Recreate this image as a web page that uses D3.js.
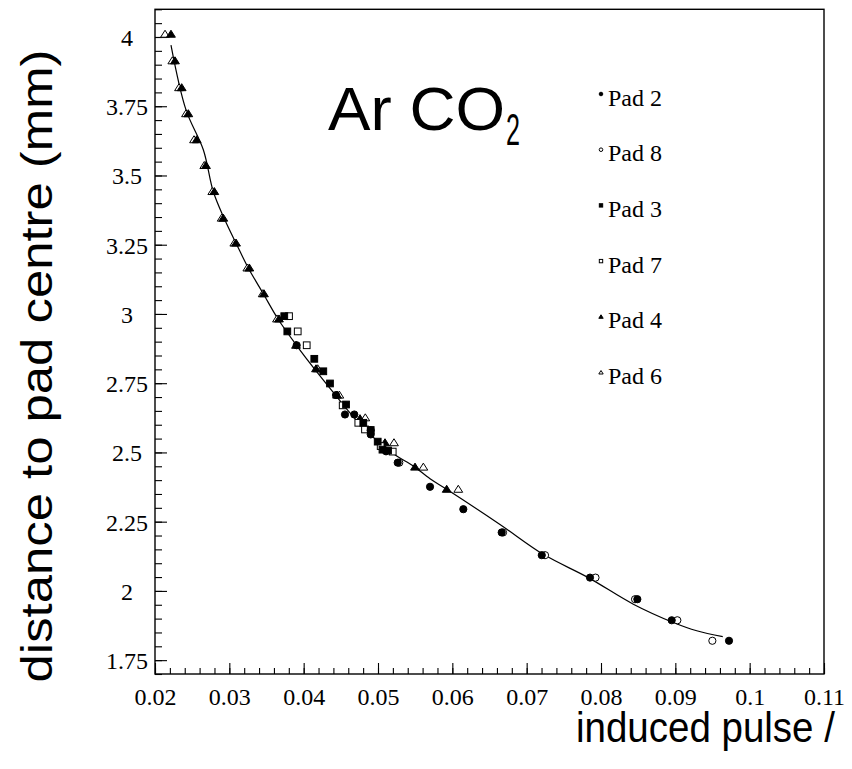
<!DOCTYPE html>
<html><head><meta charset="utf-8">
<script src="https://cdn.jsdelivr.net/npm/d3@7"></script>
<style>body{margin:0;background:#fff}</style>
</head><body>
<svg id="c" width="852" height="769"></svg>
<script>
// ---- data ----
const xTickValues = [0.02,0.03,0.04,0.05,0.06,0.07,0.08,0.09,0.1,0.11];
const yTickValues = [1.75,2,2.25,2.5,2.75,3,3.25,3.5,3.75,4];
const xTickLabels = ["0.02","0.03","0.04","0.05","0.06","0.07","0.08","0.09","0.1","0.11"];
const yTickLabels = ["1.75","2","2.25","2.5","2.75","3","3.25","3.5","3.75","4"];
const legendLabels = ["Pad 2","Pad 8","Pad 3","Pad 7","Pad 4","Pad 6"];

const pad2 = [[0.03906,2.887],[0.04435,2.707],[0.04556,2.637],[0.04681,2.637],[0.04902,2.565],[0.04902,2.58],[0.05108,2.504],[0.05265,2.463],[0.0570,2.376],[0.06148,2.295],[0.06664,2.211],[0.07203,2.129],[0.07852,2.048],[0.08489,1.970],[0.08951,1.894],[0.09722,1.820]];
const pad8 = [[0.05286,2.463],[0.06682,2.211],[0.07247,2.129],[0.07926,2.048],[0.08458,1.970],[0.09027,1.894],[0.09498,1.820]];
const pad3 = [[0.03739,2.992],[0.03780,2.937],[0.04143,2.838],[0.04264,2.793],[0.04354,2.749],[0.04570,2.673],[0.04802,2.607],[0.04902,2.581],[0.04996,2.539],[0.05135,2.507],[0.05060,2.510]];
const pad7 = [[0.03803,2.992],[0.03920,2.937],[0.04041,2.887],[0.04525,2.670],[0.04735,2.607],[0.04825,2.583],[0.05036,2.523],[0.05198,2.503]];
const pad4 = [[0.02215,4.010],[0.02269,3.914],[0.02359,3.817],[0.02448,3.723],[0.02561,3.629],[0.02686,3.536],[0.02798,3.442],[0.02919,3.346],[0.03090,3.256],[0.03269,3.166],[0.03466,3.073],[0.03668,2.982],[0.03897,2.887],[0.04166,2.802],[0.04449,2.707],[0.04758,2.622],[0.05094,2.535],[0.05498,2.447],[0.05924,2.367]];
const pad6 = [[0.02135,4.010],[0.02233,3.914],[0.02323,3.817],[0.02417,3.723],[0.02525,3.629],[0.02663,3.536],[0.02771,3.442],[0.02897,3.346],[0.03067,3.256],[0.03242,3.166],[0.03449,3.073],[0.03641,2.982],[0.04189,2.802],[0.04480,2.707],[0.04829,2.625],[0.05215,2.535],[0.05610,2.447],[0.06080,2.367]];
const fitCurve = [[0.02215,3.971],[0.02417,3.737],[0.0265,3.593],[0.02784,3.442],[0.02919,3.352],[0.0310,3.250],[0.03255,3.166],[0.03457,3.073],[0.03659,2.980],[0.03906,2.886],[0.04153,2.799],[0.04422,2.709],[0.04623,2.643],[0.04825,2.583],[0.05071,2.523],[0.05252,2.487],[0.05475,2.451],[0.0570,2.405],[0.05924,2.367],[0.06641,2.240],[0.07224,2.132],[0.07829,2.048],[0.08435,1.952],[0.08973,1.886],[0.09288,1.856],[0.09638,1.835]];

// ---- layout ----
const svg = d3.select("#c");
const x = d3.scaleLinear().domain([0.02,0.11]).range([155,824]);
const y = d3.scaleLinear().domain([1.7,4.1]).range([674,9.3]);

// frame
svg.append("rect").attr("x",155).attr("y",9.3).attr("width",824-155).attr("height",674-9.3)
  .attr("fill","none").attr("stroke","#000").attr("stroke-width",1.4);

// minor ticks
const xMinor = d3.range(0.02,0.1101,0.002);
const yMinor = d3.range(1.7,4.1001,0.05);
svg.append("g").attr("transform","translate(0,674)")
  .call(d3.axisBottom(x).tickValues(xMinor).tickSize(-6).tickFormat(""))
  .call(g=>g.select(".domain").remove());
svg.append("g").attr("transform","translate(155,0)")
  .call(d3.axisLeft(y).tickValues(yMinor).tickSize(-7).tickFormat(""))
  .call(g=>g.select(".domain").remove());

// major ticks + labels
const serif = "'Liberation Serif','Times New Roman',serif";
const sans = "'Liberation Sans',Arial,sans-serif";
const gx = svg.append("g").attr("transform","translate(0,674)")
  .call(d3.axisBottom(x).tickValues(xTickValues).tickSize(-11).tickFormat((d,i)=>xTickLabels[i]))
  .call(g=>g.select(".domain").remove());
gx.selectAll("text").attr("y",31).attr("dy",0)
  .style("font-family",serif).style("font-size","24px").attr("fill","#000");
const gy = svg.append("g").attr("transform","translate(155,0)")
  .call(d3.axisLeft(y).tickValues(yTickValues).tickSize(-12).tickFormat((d,i)=>yTickLabels[i]))
  .call(g=>g.select(".domain").remove());
gy.selectAll("text").attr("x",-28).attr("dy","0.35em").attr("text-anchor","middle")
  .style("font-family",serif).style("font-size","24px").attr("fill","#000");
svg.selectAll(".tick line").attr("stroke","#000").attr("stroke-width",1.1);

// fit curve
svg.append("path").datum(fitCurve)
  .attr("d", d3.line().x(d=>x(d[0])).y(d=>y(d[1])).curve(d3.curveCatmullRom))
  .attr("fill","none").attr("stroke","#000").attr("stroke-width",1.2);

// markers
function drawMarker(g, type, cx, cy, s){
  if(type==="fc"||type==="oc"){
    g.append("circle").attr("cx",cx).attr("cy",cy).attr("r",s*0.45)
      .attr("fill",type==="fc"?"#000":"#fff").attr("stroke","#000").attr("stroke-width",1);
  } else if(type==="fs"||type==="os"){
    g.append("rect").attr("x",cx-s*0.42).attr("y",cy-s*0.42).attr("width",s*0.84).attr("height",s*0.84)
      .attr("fill",type==="fs"?"#000":"#fff").attr("stroke","#000").attr("stroke-width",1);
  } else {
    const h=s*0.5;
    g.append("path").attr("d",`M${cx},${cy-h}L${cx+h*1.1},${cy+h*0.75}L${cx-h*1.1},${cy+h*0.75}Z`)
      .attr("fill",type==="ft"?"#000":"#fff").attr("stroke","#000").attr("stroke-width",1);
  }
}
const series = [[pad6,"ot"],[pad4,"ft"],[pad7,"os"],[pad3,"fs"],[pad8,"oc"],[pad2,"fc"]];
const mg = svg.append("g");
series.forEach(([data,type])=>data.forEach(d=>drawMarker(mg,type,x(d[0]),y(d[1]),8)));

// legend
const legendTypes = ["fc","oc","fs","os","ft","ot"];
const lg = svg.append("g");
legendLabels.forEach((t,i)=>{
  const cy = 94 + i*55.7;
  drawMarker(lg, legendTypes[i], 601, cy, 4);
  lg.append("text").attr("x",608).attr("y",cy+11.5).text(t)
    .style("font-family",serif).style("font-size","24px");
});

// text squeezed horizontally to a target width (via transform, so its box is true)
function fitText(px, py, rot, size, target, str, anchor){
  const t = svg.append("text").style("font-family",sans).style("font-size",size+"px")
    .attr("text-anchor",anchor||"start").text(str);
  const len = t.node().getComputedTextLength();
  const sx = target/len;
  t.attr("transform",`translate(${px},${py}) rotate(${rot}) scale(${sx},1)`);
  return t;
}
// title Ar CO2
fitText(328,130,0,62,177,"Ar CO");
fitText(506,145,0,44,14,"2");
// axis titles
fitText(52,366,-90,44,633,"distance to pad centre (mm)","middle");
fitText(576,742,0,43,259,"induced pulse /");
</script>
</body></html>
